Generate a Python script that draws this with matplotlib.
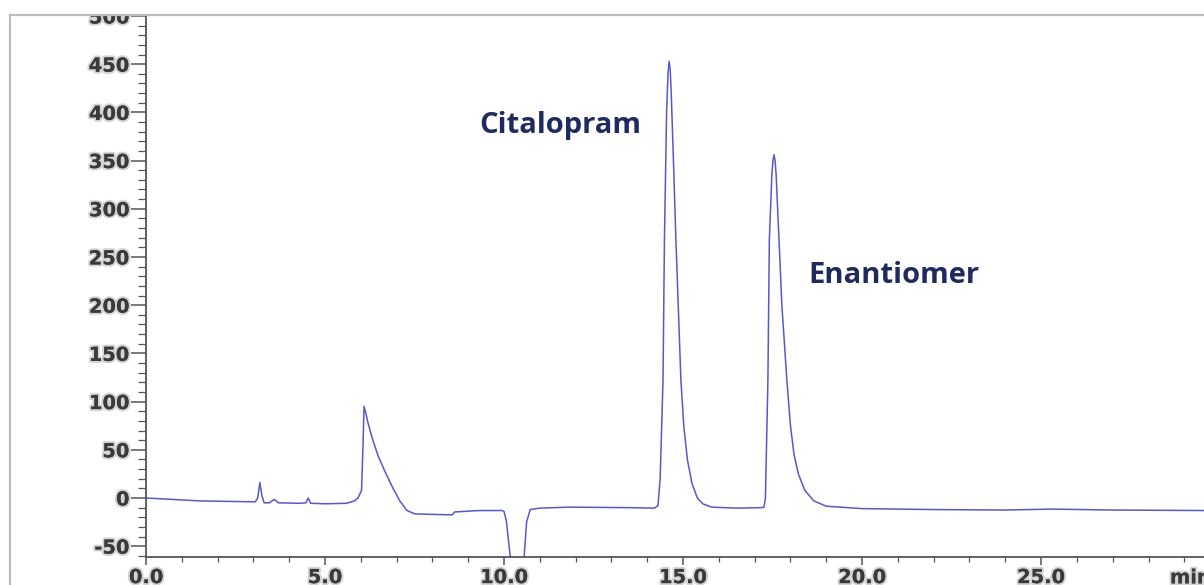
import matplotlib
matplotlib.use("Agg")
import matplotlib.pyplot as plt
import matplotlib.patheffects as pe
from matplotlib.patches import Rectangle
from matplotlib.lines import Line2D
from matplotlib.ticker import MultipleLocator, FormatStrFormatter

# chromatogram trace (time in min, signal in mAU)
time_min = [
    0.0, 1.5, 3.05, 3.12, 3.18, 3.24, 3.30, 3.45, 3.58, 3.70, 4.30, 4.47, 4.53, 4.60,
    5.0, 5.60, 5.82, 5.92, 6.02, 6.06, 6.09, 6.14, 6.20, 6.31, 6.48, 6.68, 6.90, 7.09,
    7.29, 7.51, 8.0, 8.55, 8.62, 9.30, 9.95, 10.00, 10.07, 10.14, 10.18, 10.35, 10.56,
    10.63, 10.73, 11.0, 11.8, 13.5, 14.20, 14.30, 14.36, 14.44, 14.48, 14.54, 14.58,
    14.61, 14.64, 14.67, 14.74, 14.80, 14.94, 15.02, 15.12, 15.25, 15.40, 15.55, 15.80,
    16.5, 17.20, 17.26, 17.30, 17.37, 17.41, 17.48, 17.51, 17.54, 17.57, 17.60, 17.68,
    17.76, 17.90, 18.00, 18.10, 18.22, 18.40, 18.65, 19.0, 20.0, 22.0, 24.0, 25.3,
    27.0, 29.6,
]
signal = [
    0, -3, -4, 0, 16, 2, -5, -5, -1.5, -5, -5.5, -5, 0, -5.5,
    -6, -5.5, -3, 0, 8, 53, 95, 88, 78, 63, 44, 27, 10, -3,
    -13, -16.5, -17, -17.5, -14.5, -13, -13, -14, -25, -50, -62, -130, -62,
    -25, -12, -10.5, -9.5, -10, -10.5, -8, 20, 122, 268, 400, 440,
    453, 445, 420, 340, 268, 122, 75, 40, 15, 0, -6, -9.5,
    -10.5, -10, -9.5, 0, 122, 268, 335, 350, 356, 350, 335, 268,
    200, 122, 75, 45, 25, 8, -3, -8.5, -11, -12, -12.5, -11.5,
    -12.5, -13,
]

peak_names = ["Citalopram", "Enantiomer"]
label_x = [11.57, 18.5]
label_y = [379, 223]
label_ha = ["center", "left"]

trace_color = "#5858c8"
label_color = "#1f2a5e"
axis_color = "#555555"
tick_text = "#3a3a3a"

fig = plt.figure(figsize=(12.04, 5.85), dpi=100)
ax = fig.add_axes([146 / 1204, 28 / 585, 1 - 146 / 1204, 542 / 585])

ax.plot(time_min, signal, color=trace_color, linewidth=1.1, solid_joinstyle="round")

ax.set_xlim(0, 29.55)
ax.set_ylim(-61.2, 501)

for s in ["top", "right"]:
    ax.spines[s].set_visible(False)
for s in ["left", "bottom"]:
    ax.spines[s].set_color(axis_color)
    ax.spines[s].set_linewidth(1.3)

ax.xaxis.set_major_locator(MultipleLocator(5))
ax.xaxis.set_minor_locator(MultipleLocator(1))
ax.xaxis.set_major_formatter(FormatStrFormatter("%.1f"))
ax.yaxis.set_major_locator(MultipleLocator(50))
ax.yaxis.set_minor_locator(MultipleLocator(10))
ax.yaxis.set_major_formatter(FormatStrFormatter("%d"))

ax.tick_params(axis="y", which="major", length=11, width=1.1, color=axis_color, pad=1)
ax.tick_params(axis="y", which="minor", length=6, width=0.9, color=axis_color)
ax.tick_params(axis="x", which="major", length=6, width=1.1, color=axis_color, pad=2)
ax.tick_params(axis="x", which="minor", length=3.5, width=0.9, color=axis_color)

glow = [pe.withStroke(linewidth=3, foreground="#d4d4d4"), pe.Normal()]
for lab in ax.get_xticklabels() + ax.get_yticklabels():
    lab.set_fontfamily("DejaVu Sans")
    lab.set_fontweight("bold")
    lab.set_fontsize(14)
    lab.set_color(tick_text)
    lab.set_path_effects(glow)

# axis unit, cut by the right edge like in the screenshot
ax.text(28.6, -0.021, "min", transform=ax.get_xaxis_transform(), ha="left", va="top",
        fontsize=14, fontweight="bold", color=tick_text, family="DejaVu Sans",
        path_effects=glow, clip_on=False)

for name, x, y, ha in zip(peak_names, label_x, label_y, label_ha):
    ax.text(x, y, name, ha=ha, va="baseline", fontsize=21, fontweight="bold",
            family="Open Sans", color=label_color)

# cropped frame of the screenshot: white strip on top, grey border lines
fig.patches.append(Rectangle((0, 570 / 585), 1, 15 / 585, transform=fig.transFigure,
                             facecolor="white", edgecolor="none", zorder=5))
fig.lines.append(Line2D([10 / 1204, 1], [570 / 585, 570 / 585], transform=fig.transFigure,
                        color="#bdbdbd", linewidth=1.6, zorder=6))
fig.lines.append(Line2D([10 / 1204, 10 / 1204], [0, 570 / 585], transform=fig.transFigure,
                        color="#bdbdbd", linewidth=1.6, zorder=6))

fig.savefig("out.png", dpi=100)
